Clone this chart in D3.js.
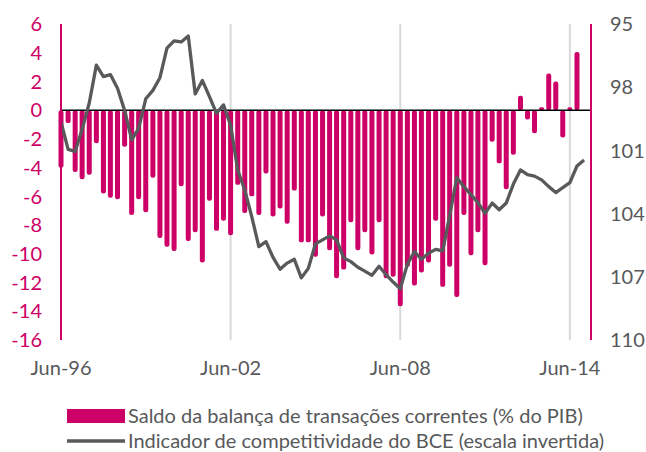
<!DOCTYPE html>
<html>
<head>
<meta charset="utf-8">
<title>Saldo da balança e competitividade</title>
<style>
  body { margin: 0; background: #fff; }
  svg text { font-family: Lato, "Open Sans", sans-serif; }
</style>
</head>
<body>
<svg width="646" height="452"></svg>
<script src="https://cdn.jsdelivr.net/npm/d3@7"></script>
<script>

// current account balance (% of GDP), quarterly from Jun-96
var balance = [
  -4.0, -0.9, -4.3, -4.8, -4.5, -2.3, -5.8, -6.1, -6.2, -2.55,
  -7.3, -6.2, -7.1, -4.7, -8.9, -9.5, -9.8, -5.3, -9.1, -8.5,
  -10.6, -6.3, -8.4, -7.7, -8.7, -5.2, -7.15, -6.0, -7.3, -4.4,
  -7.4, -6.85, -7.9, -5.6, -9.2, -9.2, -10.2, -7.4, -9.75, -11.7,
  -11.1, -7.8, -9.75, -8.5, -10.05, -7.8, -11.7, -11.6, -13.65, -10.9,
  -12.2, -11.3, -10.6, -7.7, -12.3, -10.9, -13.0, -7.3, -10.1, -8.5,
  -10.8, -2.2, -3.7, -5.5, -3.1, 1.0, -0.65, -1.6, 0.2, 2.55,
  2.0, -1.9, 0.2, 4.05
];

// ECB competitiveness indicator (inverted scale), quarterly from Jun-96
var competitiveness = [
  99.65, 100.95, 101.05, 100.0, 98.75, 96.95, 97.5, 97.4, 98.05, 99.1,
  100.5, 99.95, 98.55, 98.15, 97.55, 96.15, 95.8, 95.85, 95.57, 98.32,
  97.68, 98.45, 99.24, 98.84, 99.8, 101.93, 102.88, 104.14, 105.57, 105.33,
  106.08, 106.64, 106.35, 106.17, 107.05, 106.6, 105.44, 105.25, 105.06, 105.25,
  106.1, 106.28, 106.55, 106.73, 106.93, 106.5, 106.9, 107.25, 107.57, 106.4,
  105.8, 106.17, 105.88, 105.7, 105.77, 104.1, 102.3, 102.72, 103.1, 103.48,
  103.99, 103.5, 103.82, 103.5, 102.6, 101.93, 102.15, 102.22, 102.4, 102.72,
  103.0, 102.77, 102.53, 101.74, 101.45
];

var leftTicks = [6, 4, 2, 0, -2, -4, -6, -8, -10, -12, -14, -16];
var rightTicks = [95, 98, 101, 104, 107, 110];
var xTickLabels = ["Jun-96", "Jun-02", "Jun-08", "Jun-14"];

var legendLabels = [
  "Saldo da balança de transações correntes (% do PIB)",
  "Indicador de competitividade do BCE (escala invertida)"
];

var pink = "#cc0066",
    grey = "#58595b";

var start = new Date(1996, 5, 1);
var quarters = d3.range(competitiveness.length).map(function (i) {
    return d3.timeMonth.offset(start, 3 * i);
});
var fmt = d3.timeFormat("%b-%y");

var svg = d3.select("svg");

var plotTop = 24, plotBottom = 340, plotLeft = 61, plotRight = 591;

var x = d3.scaleTime()
    .domain([start, new Date(2015, 2, 1)])
    .range([plotLeft, plotRight]);

var yL = d3.scaleLinear().domain([-16, 6]).range([plotBottom, plotTop]);
var yR = d3.scaleLinear().domain([95, 110]).range([plotTop, plotBottom]);

var tickDates = quarters.filter(function (d) {
    return xTickLabels.indexOf(fmt(d)) >= 0;
});

// vertical grid lines
svg.append("g")
    .selectAll("line")
    .data(tickDates.slice(1))
    .enter().append("line")
    .attr("x1", function (d) { return x(d); })
    .attr("x2", function (d) { return x(d); })
    .attr("y1", plotTop)
    .attr("y2", plotBottom)
    .attr("stroke", "#d9d9d9")
    .attr("stroke-width", 2);

// bars
var bw = 5;
svg.append("g")
    .selectAll("rect")
    .data(balance)
    .enter().append("rect")
    .attr("x", function (d, i) { return x(quarters[i]) - bw / 2; })
    .attr("y", function (d) { return yL(Math.max(0, d)); })
    .attr("width", bw)
    .attr("height", function (d) { return Math.abs(yL(d) - yL(0)); })
    .attr("rx", 2.2)
    .attr("fill", pink);

// zero line
svg.append("line")
    .attr("x1", plotLeft).attr("x2", plotRight)
    .attr("y1", yL(0)).attr("y2", yL(0))
    .attr("stroke", "#000")
    .attr("stroke-width", 1.5);

// competitiveness line
var line = d3.line()
    .x(function (d, i) { return x(quarters[i]); })
    .y(function (d) { return yR(d); });

svg.append("path")
    .datum(competitiveness)
    .attr("d", line)
    .attr("fill", "none")
    .attr("stroke", grey)
    .attr("stroke-width", 3.3)
    .attr("stroke-linejoin", "round");

// axis lines
[plotLeft, plotRight].forEach(function (xx) {
    svg.append("line")
        .attr("x1", xx).attr("x2", xx)
        .attr("y1", plotTop).attr("y2", plotBottom)
        .attr("stroke", pink)
        .attr("stroke-width", 2);
});

// left tick labels
svg.append("g")
    .selectAll("text")
    .data(leftTicks)
    .enter().append("text")
    .attr("x", 42)
    .attr("y", function (d) { return yL(d); })
    .attr("dy", "0.36em")
    .attr("text-anchor", "end")
    .attr("font-size", 20)
    .attr("fill", pink)
    .text(function (d) { return String(d); });

// right tick labels
svg.append("g")
    .selectAll("text")
    .data(rightTicks)
    .enter().append("text")
    .attr("x", 610)
    .attr("y", function (d) { return yR(d); })
    .attr("dy", "0.36em")
    .attr("text-anchor", "start")
    .attr("font-size", 20)
    .attr("fill", grey)
    .text(function (d) { return String(d); });

// x tick labels
svg.append("g")
    .selectAll("text")
    .data(tickDates)
    .enter().append("text")
    .attr("x", function (d) { return x(d); })
    .attr("y", 368)
    .attr("dy", "0.36em")
    .attr("text-anchor", "middle")
    .attr("font-size", 20)
    .attr("fill", grey)
    .text(function (d) { return fmt(d); });

// legend
var lg = svg.append("g");
lg.append("rect")
    .attr("x", 67).attr("y", 409)
    .attr("width", 58).attr("height", 14)
    .attr("fill", pink);
lg.append("line")
    .attr("x1", 67).attr("x2", 125)
    .attr("y1", 441).attr("y2", 441)
    .attr("stroke", grey)
    .attr("stroke-width", 3.5);
lg.selectAll("text")
    .data(legendLabels)
    .enter().append("text")
    .attr("x", 128)
    .attr("y", function (d, i) { return 416 + i * 25; })
    .attr("dy", "0.36em")
    .attr("font-size", 20)
    .attr("fill", grey)
    .text(function (d) { return d; });

</script>
</body>
</html>
